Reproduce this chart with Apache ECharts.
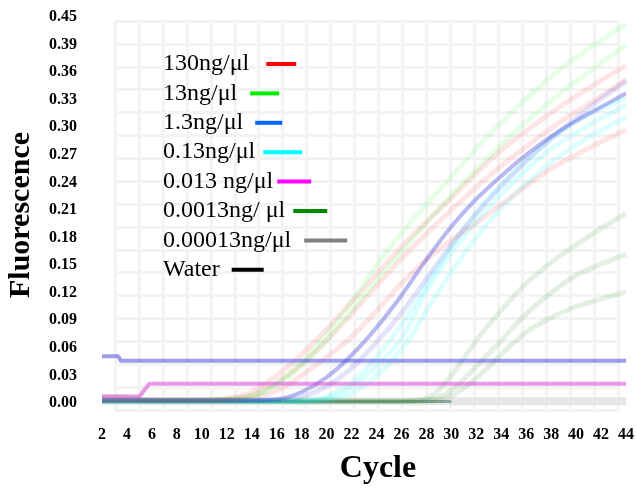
<!DOCTYPE html>
<html><head><meta charset="utf-8">
<script src="https://cdn.jsdelivr.net/npm/echarts@6/dist/echarts.min.js"></script>
<style>html,body{margin:0;padding:0;background:#fff}#c{width:637px;height:490px}</style>
</head><body><div id="c"></div>
<script>
// ---- data ----
const cycles = [2,4,6,8,10,12,14,16,18,20,22,24,26,28,30,32,34,36,38,40,42,44];
const yTickLabels = ['0.00','0.03','0.06','0.09','0.12','0.15','0.18','0.21','0.24','0.27','0.30','0.33','0.36','0.39','0.45'];
const groupNames = ['130ng/μl','13ng/μl','1.3ng/μl','0.13ng/μl','0.013 ng/μl','0.0013ng/ μl','0.00013ng/μl','Water'];

// 130 ng/ul replicates
const red1 = [0.003,0.003,0.003,0.003,0.003,0.005,0.012,0.030,0.053,0.080,0.110,0.140,0.170,0.197,0.223,0.250,0.275,0.296,0.316,0.334,0.351,0.367];
const red2 = [0.003,0.003,0.003,0.003,0.003,0.004,0.008,0.022,0.042,0.068,0.097,0.127,0.157,0.184,0.210,0.235,0.258,0.279,0.299,0.317,0.334,0.352];
const red3 = [0.003,0.003,0.003,0.003,0.003,0.003,0.005,0.013,0.030,0.050,0.072,0.100,0.130,0.156,0.177,0.196,0.216,0.236,0.255,0.270,0.284,0.297];
// 13 ng/ul
const green1 = [0.003,0.003,0.003,0.003,0.003,0.004,0.008,0.022,0.045,0.075,0.110,0.150,0.185,0.216,0.246,0.277,0.305,0.331,0.355,0.376,0.395,0.412];
const green2 = [0.003,0.003,0.003,0.003,0.003,0.004,0.007,0.019,0.040,0.068,0.100,0.133,0.165,0.196,0.226,0.254,0.281,0.306,0.329,0.350,0.370,0.389];
// 1.3 ng/ul
const blue1 = [0.003,0.003,0.003,0.003,0.003,0.003,0.003,0.004,0.012,0.028,0.052,0.082,0.117,0.156,0.192,0.222,0.247,0.270,0.290,0.307,0.322,0.337];
const blue2 = [0.003,0.003,0.003,0.003,0.003,0.003,0.003,0.003,0.007,0.018,0.038,0.066,0.098,0.135,0.172,0.206,0.236,0.263,0.288,0.310,0.331,0.350];
const blueFlatCycles = [2,3.3,3.5,44];
const blueFlat = [0.051,0.051,0.046,0.046];
// 0.13 ng/ul
const cyan1 = [0.002,0.002,0.002,0.002,0.002,0.002,0.002,0.002,0.002,0.005,0.017,0.040,0.070,0.122,0.163,0.197,0.227,0.254,0.276,0.294,0.310,0.324];
const cyan2 = [0.002,0.002,0.002,0.002,0.002,0.002,0.002,0.002,0.002,0.003,0.010,0.030,0.058,0.100,0.143,0.180,0.212,0.239,0.262,0.281,0.297,0.311];
const cyan3 = [0.002,0.002,0.002,0.002,0.002,0.002,0.002,0.002,0.003,0.007,0.022,0.050,0.085,0.128,0.170,0.207,0.237,0.264,0.287,0.306,0.320,0.332];
// 0.013 ng/ul
const magentaCycles = [2,5,5.8,44];
const magenta = [0.007,0.007,0.021,0.021];
// 0.0013 ng/ul
const dgreen1 = [0.002,0.002,0.002,0.002,0.002,0.002,0.002,0.002,0.002,0.002,0.002,0.002,0.002,0.005,0.030,0.068,0.101,0.130,0.153,0.172,0.190,0.206];
const dgreen2 = [0.002,0.002,0.002,0.002,0.002,0.002,0.002,0.002,0.002,0.002,0.002,0.002,0.002,0.003,0.014,0.040,0.068,0.097,0.120,0.139,0.151,0.162];
const dgreen3 = [0.007,0.006,0.002,0.002,0.002,0.002,0.002,0.002,0.002,0.002,0.002,0.002,0.002,0.002,0.008,0.027,0.053,0.077,0.093,0.105,0.113,0.121];
// 0.00013 ng/ul and water (flat)
const grayCycles = [2,44];
const grayFlat = [0.002,0.002];
const waterCycles = [2,30];
const waterFlat = [0.0015,0.0015];

// ---- chart ----
const legendColors = ['#ff0000','#00ee00','#0066ff','#00ffff','#ff00ff','#008800','#808080','#000000'];
const pair = (xs, ys) => xs.map((x, i) => [x, ys[i]]);

function line(gi, xs, ys, color, width, smooth) {
  return {
    type: 'line', name: groupNames[gi], data: pair(xs, ys),
    smooth: smooth ? 0.35 : false, symbol: 'none', silent: true,
    lineStyle: { color: color, width: width },
    itemStyle: { color: legendColors[gi] },
    xAxisIndex: 0, yAxisIndex: 0
  };
}

const series = [
  line(6, grayCycles, grayFlat, '#e6e6e6', 8, false),
  line(7, waterCycles, waterFlat, 'rgba(40,90,80,0.45)', 3, false),
  line(5, cycles, dgreen1, 'rgba(0,120,0,0.11)', 5, true),
  line(5, cycles, dgreen2, 'rgba(0,120,0,0.11)', 5, true),
  line(5, cycles, dgreen3, 'rgba(0,120,0,0.11)', 5, true),
  line(3, cycles, cyan1, 'rgba(0,255,255,0.13)', 5, true),
  line(3, cycles, cyan2, 'rgba(0,255,255,0.13)', 5, true),
  line(3, cycles, cyan3, 'rgba(0,255,255,0.13)', 5, true),
  line(0, cycles, red1, 'rgba(255,40,40,0.12)', 5, true),
  line(0, cycles, red2, 'rgba(255,40,40,0.12)', 5, true),
  line(0, cycles, red3, 'rgba(255,40,40,0.12)', 5, true),
  line(1, cycles, green1, 'rgba(40,255,40,0.11)', 5, true),
  line(1, cycles, green2, 'rgba(40,255,40,0.11)', 5, true),
  line(2, cycles, blue2, 'rgba(60,60,230,0.14)', 5, true),
  line(2, cycles, blue1, 'rgba(60,60,220,0.36)', 4, true),
  line(4, magentaCycles, magenta, 'rgba(215,70,215,0.55)', 4, false),
  line(2, blueFlatCycles, blueFlat, 'rgba(60,60,215,0.5)', 4, false)
];

const barW = [30,29,27,39,34,34,43,32];
const gapW = [17,13,12,8,4,8,13,12];
const rich = {};
groupNames.forEach((n, i) => {
  rich['s' + i] = { width: gapW[i], height: 4 };
  rich['b' + i] = { width: barW[i], height: 4, backgroundColor: legendColors[i] };
});

const font = '"Liberation Serif", "Times New Roman", serif';
const chart = echarts.init(document.getElementById('c'), null, { renderer: 'canvas' });
chart.setOption({
  animation: false,
  backgroundColor: '#ffffff',
  grid: [
    { left: 102, right: 9, top: 17, bottom: 87 },
    { left: 115, right: 19, top: 21, bottom: 80 }
  ],
  xAxis: [
    { type: 'value', gridIndex: 0, min: 2, max: 44, interval: 2,
      axisLine: { show: false }, axisTick: { show: false }, splitLine: { show: false },
      axisLabel: { color: '#000', fontFamily: font, fontWeight: 'bold', fontSize: 16, margin: 24 } },
    { type: 'value', gridIndex: 1, min: 0, max: 21, interval: 1,
      axisLine: { show: false }, axisTick: { show: false }, axisLabel: { show: false },
      splitLine: { show: true, lineStyle: { color: '#f3f3f3', width: 3 } } }
  ],
  yAxis: [
    { type: 'value', gridIndex: 0, min: 0, max: 0.42, interval: 0.03,
      axisLine: { show: false }, axisTick: { show: false }, splitLine: { show: false },
      axisLabel: { color: '#000', fontFamily: font, fontWeight: 'bold', fontSize: 16, margin: 25,
        formatter: v => yTickLabels[Math.round(v / 0.03)] } },
    { type: 'value', gridIndex: 1, min: 0, max: 17, interval: 1,
      axisLine: { show: false }, axisTick: { show: false }, axisLabel: { show: false },
      splitLine: { show: true, lineStyle: { color: '#f3f3f3', width: 3 } } }
  ],
  legend: {
    orient: 'vertical', left: 158, top: 52, padding: 0, itemGap: 5.4,
    itemWidth: 0, itemHeight: 0, icon: 'rect', selectedMode: false,
    data: groupNames,
    formatter: name => { const i = groupNames.indexOf(name); return name + '{s' + i + '|}{b' + i + '|}'; },
    textStyle: { color: '#000', fontFamily: font, fontSize: 24, lineHeight: 24, rich: rich }
  },
  graphic: [
    { type: 'text', x: 21, y: 215, rotation: Math.PI / 2,
      style: { text: 'Fluorescence', font: 'bold 30px ' + font, align: 'center', verticalAlign: 'middle', fill: '#000' } },
    { type: 'text', x: 378, y: 469,
      style: { text: 'Cycle', font: 'bold 32px ' + font, align: 'center', verticalAlign: 'middle', fill: '#000' } }
  ],
  series: series
});
</script>
</body></html>
